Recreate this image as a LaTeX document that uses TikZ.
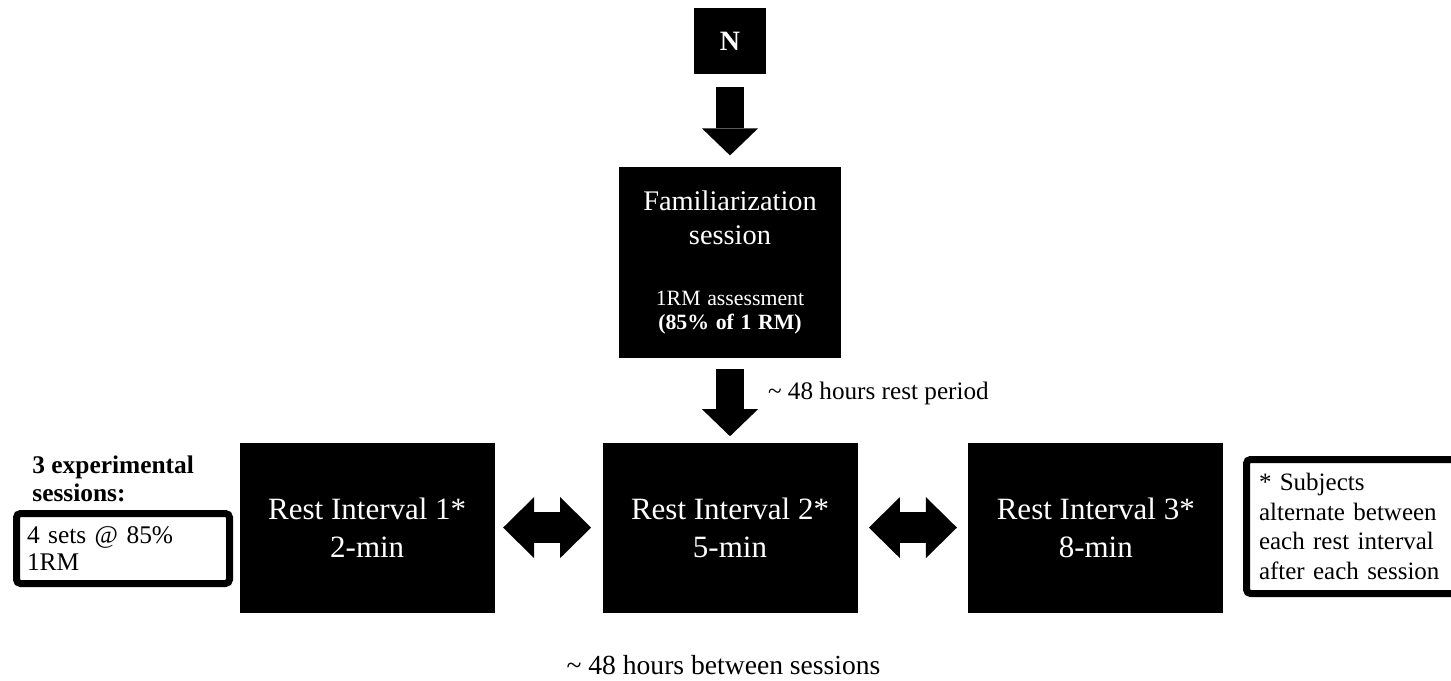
\documentclass[tikz,border=0pt]{standalone}
\usepackage{fontspec}
\setmainfont{Liberation Serif}
\usetikzlibrary{arrows.meta,positioning}
\tikzset{
  blk/.style={fill=black, text=white, align=center, inner sep=0pt},
  restbox/.style={blk, minimum width=127.5pt, minimum height=85pt, font=\fontsize{15.5}{19}\selectfont},
  notebox/.style={draw=black, line width=3.5pt, rounded corners=2pt, fill=white, align=left, inner ysep=3pt},
  lbl/.style={inner sep=0pt, align=left},
  bigarr/.style={line width=14pt, -{Triangle[width=28pt, length=13.5pt, line width=0pt]}},
  dblarr/.style={line width=15.5pt, {Triangle[width=30.5pt, length=15.5pt, line width=0pt]}-{Triangle[width=30.5pt, length=15.5pt, line width=0pt]}},
}

\begin{document}
\begin{tikzpicture}[x=0.5pt, y=-0.5pt]
  \useasboundingbox (0,0) rectangle (1451,680);
  % flow down the middle
  \node[blk, minimum width=36pt, minimum height=33pt, font=\fontsize{14}{16}\selectfont\bfseries] (n) at (730,41) {N};
  \node[blk, text width=111pt, minimum height=95.5pt, below=46pt of n] (fam)
    {\fontsize{14.2}{16.7}\selectfont Familiarization\\session\\[18pt]\fontsize{10.9}{12.5}\selectfont 1RM assessment\\\textbf{(85\% of 1 RM)}};
  \node[restbox, below=42pt of fam] (rest2) {Rest Interval 2*\\5-min};
  \node[restbox, left=53.5pt of rest2] (rest1) {Rest Interval 1*\\2-min};
  \node[restbox, right=55pt of rest2] (rest3) {Rest Interval 3*\\8-min};
  % side notes
  \node[lbl, anchor=west, font=\fontsize{12.7}{14}\selectfont\bfseries] (exp) at (32,479) {3 experimental\\sessions:};
  \node[notebox, text width=96pt, inner xsep=5.25pt, minimum height=35pt, font=\fontsize{12.7}{13.5}\selectfont] (sets) at (123,548.5) {4 sets @ 85\%\\1RM};
  \node[notebox, text width=94.25pt, inner xsep=6.25pt, minimum height=67pt, font=\fontsize{12.5}{14.8}\selectfont] (subj) at (1353.25,526.5)
    {* Subjects\\alternate between\\each rest interval\\after each session};
  \node[lbl, font=\fontsize{13.8}{16}\selectfont] (gap) at (723.5,665) {\textasciitilde{} 48 hours between sessions};
  % arrows
  \draw[bigarr, shorten <=6.5pt, shorten >=5.5pt] (n) -- (fam);
  \draw[bigarr, shorten <=5.5pt, shorten >=3pt] (fam) -- node[lbl, pos=0.417, right=12pt, font=\fontsize{12.6}{14}\selectfont] (restlbl) {\textasciitilde{} 48 hours rest period} (rest2);
  \draw[dblarr, shorten <=4pt, shorten >=5.5pt] (rest1) -- (rest2);
  \draw[dblarr, shorten <=5.5pt, shorten >=5.5pt] (rest2) -- (rest3);
\end{tikzpicture}
\end{document}
